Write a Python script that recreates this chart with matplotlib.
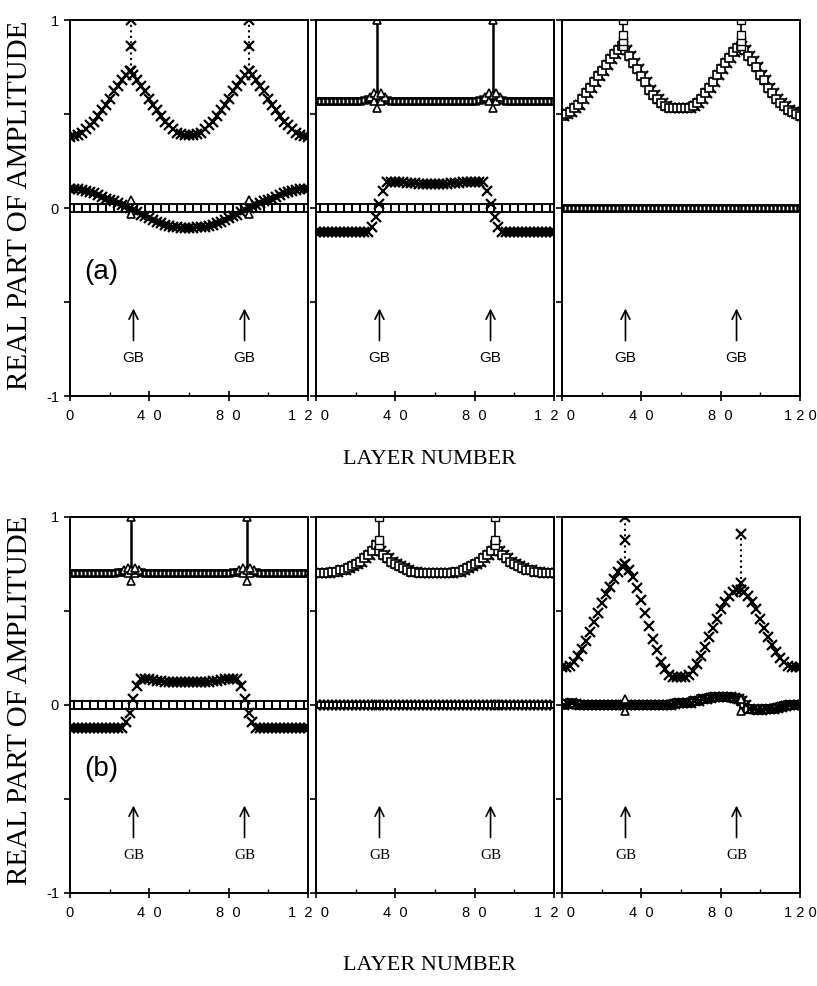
import numpy as np
import matplotlib
matplotlib.use('Agg')
import matplotlib.pyplot as plt

# numer warstwy (co druga warstwa)
layers = np.arange(0, 121, 2)
gb_arrows = [32, 88]
zero_line = [0.0] * len(layers)

# ---- (a) panel 1
a1_main = [0.38, 0.385, 0.39, 0.40, 0.42, 0.44, 0.46, 0.49, 0.52, 0.55,
           0.58, 0.62, 0.65, 0.68, 0.71, 0.73, 0.71, 0.68, 0.65, 0.62,
           0.58, 0.55, 0.52, 0.49, 0.46, 0.44, 0.42, 0.40, 0.395, 0.39,
           0.39, 0.39, 0.395, 0.40, 0.42, 0.44, 0.46, 0.49, 0.52, 0.55,
           0.58, 0.62, 0.65, 0.68, 0.71, 0.73, 0.71, 0.68, 0.65, 0.62,
           0.58, 0.55, 0.52, 0.49, 0.46, 0.44, 0.42, 0.40, 0.39, 0.385,
           0.38]
a1_low = [0.10, 0.10, 0.10, 0.095, 0.09, 0.085, 0.08, 0.07, 0.06, 0.05,
          0.045, 0.035, 0.025, 0.015, 0.01, 0.0, -0.01, -0.02, -0.035, -0.045,
          -0.055, -0.065, -0.075, -0.08, -0.09, -0.095, -0.10, -0.10, -0.105, -0.105,
          -0.105, -0.105, -0.10, -0.10, -0.10, -0.095, -0.09, -0.08, -0.075, -0.065,
          -0.055, -0.045, -0.035, -0.02, -0.01, 0.0, 0.01, 0.015, 0.025, 0.035,
          0.045, 0.05, 0.06, 0.07, 0.08, 0.085, 0.09, 0.095, 0.10, 0.10,
          0.10]
a1_spike_x = [31, 90]
a1_spike = [0.73, 0.86, 1.0]
a1_tri = [0.04, -0.03]

# ---- (a) panel 2
a2_flat = [0.57, 0.57, 0.57, 0.57, 0.57, 0.57, 0.57, 0.57, 0.57, 0.57,
           0.57, 0.57, 0.575, 0.58, 0.58, 0.58, 0.58, 0.58, 0.575, 0.57,
           0.57, 0.57, 0.57, 0.57, 0.57, 0.57, 0.57, 0.57, 0.57, 0.57,
           0.57, 0.57, 0.57, 0.57, 0.57, 0.57, 0.57, 0.57, 0.57, 0.57,
           0.57, 0.575, 0.58, 0.58, 0.58, 0.58, 0.58, 0.575, 0.57, 0.57,
           0.57, 0.57, 0.57, 0.57, 0.57, 0.57, 0.57, 0.57, 0.57, 0.57,
           0.57]
a2_step = [-0.13, -0.13, -0.13, -0.13, -0.13, -0.13, -0.13, -0.13, -0.13, -0.13,
           -0.13, -0.13, -0.13, -0.13, -0.10, -0.05, 0.02, 0.09, 0.14, 0.14,
           0.14, 0.14, 0.14, 0.135, 0.135, 0.135, 0.13, 0.13, 0.13, 0.13,
           0.13, 0.13, 0.13, 0.13, 0.135, 0.135, 0.135, 0.14, 0.14, 0.14,
           0.14, 0.14, 0.14, 0.09, 0.02, -0.05, -0.10, -0.13, -0.13, -0.13,
           -0.13, -0.13, -0.13, -0.13, -0.13, -0.13, -0.13, -0.13, -0.13, -0.13,
           -0.13]
a2_spike_x = [31, 89]
a2_tri_dx = [-4, -2, 0, 2, 4, -2, 0, 2, 0]
a2_tri_y = [0.59, 0.57, 0.53, 0.57, 0.59, 0.61, 0.60, 0.61, 1.0]

# ---- (a) panel 3
a3_sq = [0.49, 0.50, 0.51, 0.53, 0.55, 0.58, 0.61, 0.64, 0.67, 0.70,
         0.73, 0.76, 0.79, 0.82, 0.84, 0.86, 0.84, 0.81, 0.77, 0.74,
         0.70, 0.67, 0.63, 0.60, 0.58, 0.56, 0.54, 0.53, 0.53, 0.53,
         0.53, 0.53, 0.53, 0.54, 0.56, 0.58, 0.61, 0.64, 0.67, 0.71,
         0.74, 0.77, 0.80, 0.83, 0.85, 0.86, 0.84, 0.81, 0.78, 0.75,
         0.71, 0.68, 0.64, 0.61, 0.58, 0.56, 0.54, 0.52, 0.51, 0.50,
         0.49]
a3_spike_x = [31, 90]
a3_spike = [0.86, 0.89, 0.92, 1.0]

# ---- (b) panel 1
b1_flat = [0.70, 0.70, 0.70, 0.70, 0.70, 0.70, 0.70, 0.70, 0.70, 0.70,
           0.70, 0.70, 0.705, 0.71, 0.71, 0.71, 0.71, 0.71, 0.705, 0.70,
           0.70, 0.70, 0.70, 0.70, 0.70, 0.70, 0.70, 0.70, 0.70, 0.70,
           0.70, 0.70, 0.70, 0.70, 0.70, 0.70, 0.70, 0.70, 0.70, 0.70,
           0.70, 0.705, 0.71, 0.71, 0.71, 0.71, 0.71, 0.705, 0.70, 0.70,
           0.70, 0.70, 0.70, 0.70, 0.70, 0.70, 0.70, 0.70, 0.70, 0.70,
           0.70]
b1_step = [-0.12, -0.12, -0.12, -0.12, -0.12, -0.12, -0.12, -0.12, -0.12, -0.12,
           -0.12, -0.12, -0.12, -0.12, -0.09, -0.04, 0.03, 0.10, 0.14, 0.14,
           0.14, 0.135, 0.13, 0.13, 0.125, 0.125, 0.12, 0.12, 0.12, 0.12,
           0.12, 0.12, 0.12, 0.12, 0.125, 0.125, 0.13, 0.13, 0.135, 0.14,
           0.14, 0.14, 0.14, 0.10, 0.03, -0.04, -0.09, -0.12, -0.12, -0.12,
           -0.12, -0.12, -0.12, -0.12, -0.12, -0.12, -0.12, -0.12, -0.12, -0.12,
           -0.12]
b1_spike_x = [31, 89]
b1_tri_dx = [-4, -2, 0, 2, 4, -2, 0, 2, 0]
b1_tri_y = [0.72, 0.70, 0.66, 0.70, 0.72, 0.73, 0.72, 0.73, 1.0]

# ---- (b) panel 2
b2_sq = [0.70, 0.70, 0.70, 0.70, 0.71, 0.71, 0.72, 0.72, 0.73, 0.74,
         0.75, 0.76, 0.78, 0.80, 0.82, 0.85, 0.82, 0.80, 0.78, 0.76,
         0.75, 0.74, 0.73, 0.72, 0.71, 0.71, 0.70, 0.70, 0.70, 0.70,
         0.70, 0.70, 0.70, 0.70, 0.70, 0.71, 0.71, 0.72, 0.73, 0.74,
         0.75, 0.76, 0.78, 0.80, 0.82, 0.85, 0.82, 0.80, 0.78, 0.76,
         0.75, 0.74, 0.73, 0.72, 0.72, 0.71, 0.71, 0.70, 0.70, 0.70,
         0.70]
b2_spike_x = [32, 90]
b2_spike = [0.85, 0.88, 1.0]

# ---- (b) panel 3
b3_main = [0.20, 0.20, 0.21, 0.23, 0.26, 0.30, 0.34, 0.39, 0.44, 0.49,
           0.54, 0.59, 0.63, 0.67, 0.71, 0.74, 0.75, 0.72, 0.68, 0.62,
           0.56, 0.49, 0.42, 0.35, 0.29, 0.23, 0.19, 0.16, 0.15, 0.15,
           0.15, 0.15, 0.16, 0.18, 0.22, 0.26, 0.31, 0.36, 0.41, 0.46,
           0.51, 0.55, 0.58, 0.60, 0.61, 0.61, 0.60, 0.58, 0.55, 0.51,
           0.46, 0.41, 0.36, 0.32, 0.28, 0.25, 0.23, 0.21, 0.20, 0.20,
           0.20]
b3_zero = [0.0, 0.005, 0.01, 0.005, 0.0, 0.0, 0.0, 0.0, 0.0, 0.0,
           0.0, 0.0, 0.0, 0.0, 0.0, 0.0, 0.0, 0.0, 0.0, 0.0,
           0.0, 0.0, 0.0, 0.0, 0.0, 0.0, 0.0, 0.0, 0.005, 0.01,
           0.01, 0.01, 0.01, 0.02, 0.02, 0.03, 0.03, 0.035, 0.04, 0.04,
           0.045, 0.045, 0.04, 0.035, 0.03, 0.02, 0.0, -0.02, -0.02, -0.025,
           -0.025, -0.02, -0.02, -0.02, -0.015, -0.01, -0.005, 0.0, 0.0, 0.0,
           0.0]
b3_spike_x = [32, 90]
b3_spikes = [[0.75, 0.88, 1.0], [0.61, 0.65, 0.91]]
b3_tri = [0.03, -0.03]

sans = ['Liberation Sans', 'DejaVu Sans']
serif = ['Liberation Serif', 'DejaVu Serif']

fig = plt.figure(figsize=(8.17, 9.86), dpi=100)
W, H = 817, 986
lefts = [70, 316, 562]
szer = 238
gory = [20, 517]
wys = 376


def ramka(ax, nr):
    ax.set_xlim(0, 120)
    ax.set_ylim(-1, 1)
    ax.set_xticks([0, 40, 80, 120])
    ax.set_xticks([20, 60, 100], minor=True)
    ostatni = '1 2 0' if nr == 2 else '1  2  0'
    if nr == 0:
        ax.set_xticklabels(['0', '4  0', '8  0', ostatni])
    else:
        ax.set_xticklabels(['', '4  0', '8  0', ostatni])
    ax.set_yticks([-1, -0.5, 0, 0.5, 1])
    if nr == 0:
        ax.set_yticklabels(['-1', '', '0', '', '1'])
    else:
        ax.set_yticklabels([])
    ax.tick_params(axis='x', which='major', direction='inout', length=7, width=1.2, pad=6)
    ax.tick_params(axis='x', which='minor', direction='in', length=3, width=1)
    ax.tick_params(axis='y', direction='out', length=4, width=1.2, pad=4)
    for lab in ax.get_xticklabels() + ax.get_yticklabels():
        lab.set_family(sans)
        lab.set_fontsize(10.5)
    for s in ax.spines.values():
        s.set_linewidth(1.4)


def strzalki(ax, serifowe):
    for gx in gb_arrows:
        ax.annotate('', xy=(gx, -0.52), xytext=(gx, -0.72),
                    arrowprops=dict(arrowstyle='->', lw=1.2, color='k', mutation_scale=16))
        ax.text(gx, -0.8, 'GB', ha='center', va='center', fontsize=11,
                family=serif if serifowe else sans)


def zero_kw(ax, co=2, ms=5.5, mew=1.4):
    ax.plot(layers[::co], zero_line[::co], ls='none', marker='s', ms=ms, mfc='white',
            mec='k', mew=mew, zorder=2)


krzyz = dict(ls='none', marker='x', ms=6.5, mew=1.6, color='k')
kwadrat = dict(ls='none', marker='s', ms=6, mfc='white', mec='k', mew=1.2)
trojkat = dict(ls='none', marker='^', ms=6, mfc='white', mec='k', mew=1.2)
pasek = dict(ls='none', marker='s', ms=5, mfc='white', mec='k', mew=1.8)

osie = []
for g in range(2):
    for p in range(3):
        ax = fig.add_axes([lefts[p] / W, 1 - (gory[g] + wys) / H, szer / W, wys / H])
        ramka(ax, p)
        osie.append(ax)

# (a) 1
ax = osie[0]
zero_kw(ax)
ax.plot(layers, a1_low, **krzyz)
ax.plot(layers, a1_main, **krzyz)
for sx in a1_spike_x:
    ax.plot([sx] * len(a1_spike), a1_spike, ls=':', lw=1.5, color='k', marker='x', ms=6.5, mew=1.6)
    ax.plot([sx] * len(a1_tri), a1_tri, **trojkat)
ax.text(7, -0.34, '(a)', fontsize=20, family=sans, va='center')
strzalki(ax, False)

# (a) 2
ax = osie[1]
zero_kw(ax)
ax.plot(layers, a2_step, **krzyz)
ax.plot(layers, a2_flat, **pasek)
for sx in a2_spike_x:
    ax.plot([sx, sx], [a2_flat[0], 1.0], color='k', lw=1.8)
    ax.plot([sx + d for d in a2_tri_dx], a2_tri_y, **trojkat)
strzalki(ax, False)

# (a) 3
ax = osie[2]
ax.plot(layers, zero_line, **pasek)
ax.plot(layers + 1, a3_sq, **krzyz)
ax.plot(layers, a3_sq, **kwadrat)
for sx in a3_spike_x:
    ax.plot([sx] * len(a3_spike), a3_spike, color='k', lw=1.2, marker='s', ms=6, mfc='white', mec='k')
strzalki(ax, False)

# (b) 1
ax = osie[3]
zero_kw(ax)
ax.plot(layers, b1_step, **krzyz)
ax.plot(layers, b1_flat, **pasek)
for sx in b1_spike_x:
    ax.plot([sx, sx], [b1_flat[0], 1.0], color='k', lw=1.8)
    ax.plot([sx + d for d in b1_tri_dx], b1_tri_y, **trojkat)
ax.text(7, -0.34, '(b)', fontsize=20, family=sans, va='center')
strzalki(ax, True)

# (b) 2
ax = osie[4]
ax.plot(layers, zero_line, **krzyz)
zero_kw(ax, co=1, ms=5)
ax.plot(layers + 1, b2_sq, **krzyz)
ax.plot(layers, b2_sq, **kwadrat)
for sx in b2_spike_x:
    ax.plot([sx] * len(b2_spike), b2_spike, color='k', lw=1.2, marker='s', ms=6, mfc='white', mec='k')
strzalki(ax, True)

# (b) 3
ax = osie[5]
ax.plot(layers, b3_zero, **kwadrat)
ax.plot(layers + 1, b3_zero, **krzyz)
ax.plot(layers, b3_main, **krzyz)
for sx, sp in zip(b3_spike_x, b3_spikes):
    ax.plot([sx] * len(sp), sp, ls=':', lw=1.5, color='k', marker='x', ms=6.5, mew=1.6)
    ax.plot([sx] * len(b3_tri), b3_tri, **trojkat)
strzalki(ax, True)

# opisy osi
for yc in [205, 700]:
    fig.text(20 / W, 1 - yc / H, 'REAL PART OF AMPLITUDE', rotation=90, ha='center',
             va='center', fontsize=21, family=serif)
for yc in [460, 965]:
    fig.text(430 / W, 1 - yc / H, 'LAYER NUMBER', ha='center', va='center',
             fontsize=16, family=serif)

fig.savefig('out.png', dpi=100)
